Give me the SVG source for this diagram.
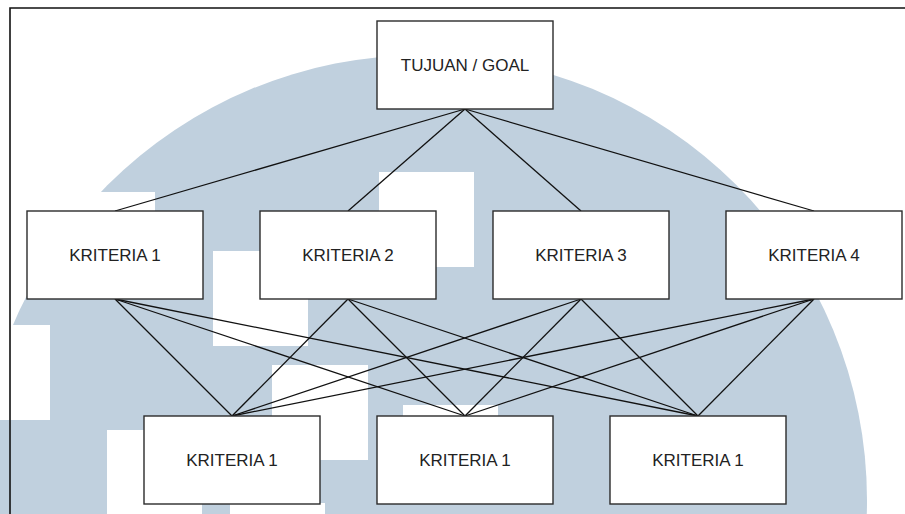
<svg xmlns="http://www.w3.org/2000/svg" width="905" height="514" viewBox="0 0 905 514">
  <style>
    .box { fill: #ffffff; stroke: #2b2b2b; stroke-width: 1.4; }
    .lbl { font-family: "Liberation Sans", Arial, sans-serif; font-size: 17px; fill: #222222; text-anchor: middle; }
    .edge { stroke: #111111; stroke-width: 1.3; fill: none; }
    .wm { fill: #c0d0de; }
    .cut { fill: #ffffff; }
  </style>
  <rect x="0" y="0" width="905" height="514" fill="#ffffff"/>
  <g id="watermark">
    <circle class="wm" cx="422" cy="500" r="445"/>
    <rect class="cut" x="60" y="192" width="95" height="95"/>
    <rect class="cut" x="213" y="251" width="95" height="95"/>
    <rect class="cut" x="379" y="172" width="95" height="95"/>
    <rect class="cut" x="0" y="325" width="50" height="95"/>
    <rect class="cut" x="272" y="365" width="96" height="95"/>
    <rect class="cut" x="403" y="405" width="95" height="95"/>
    <rect class="cut" x="107" y="430" width="95" height="95"/>
    <rect class="cut" x="230" y="503" width="95" height="20"/>
  </g>
  <g id="frame">
    <path d="M10 514 V8 H905" fill="none" stroke="#111111" stroke-width="1.6"/>
  </g>
  <g id="connectors">
    <line class="edge" x1="465" y1="109" x2="115" y2="211"/>
    <line class="edge" x1="465" y1="109" x2="348" y2="211"/>
    <line class="edge" x1="465" y1="109" x2="581" y2="211"/>
    <line class="edge" x1="465" y1="109" x2="814" y2="211"/>
    <line class="edge" x1="115" y1="299" x2="232" y2="416"/>
    <line class="edge" x1="115" y1="299" x2="465" y2="416"/>
    <line class="edge" x1="115" y1="299" x2="698" y2="416"/>
    <line class="edge" x1="348" y1="299" x2="232" y2="416"/>
    <line class="edge" x1="348" y1="299" x2="465" y2="416"/>
    <line class="edge" x1="348" y1="299" x2="698" y2="416"/>
    <line class="edge" x1="581" y1="299" x2="232" y2="416"/>
    <line class="edge" x1="581" y1="299" x2="465" y2="416"/>
    <line class="edge" x1="581" y1="299" x2="698" y2="416"/>
    <line class="edge" x1="814" y1="299" x2="232" y2="416"/>
    <line class="edge" x1="814" y1="299" x2="465" y2="416"/>
    <line class="edge" x1="814" y1="299" x2="698" y2="416"/>
  </g>
  <g id="goal">
    <rect class="box" x="377" y="21" width="176" height="88"/>
    <text class="lbl" x="465" y="71">TUJUAN / GOAL</text>
  </g>
  <g id="kriteria1">
    <rect class="box" x="27" y="211" width="176" height="88"/>
    <text class="lbl" x="115" y="261">KRITERIA 1</text>
  </g>
  <g id="kriteria2">
    <rect class="box" x="260" y="211" width="176" height="88"/>
    <text class="lbl" x="348" y="261">KRITERIA 2</text>
  </g>
  <g id="kriteria3">
    <rect class="box" x="493" y="211" width="176" height="88"/>
    <text class="lbl" x="581" y="261">KRITERIA 3</text>
  </g>
  <g id="kriteria4">
    <rect class="box" x="726" y="211" width="176" height="88"/>
    <text class="lbl" x="814" y="261">KRITERIA 4</text>
  </g>
  <g id="sub1">
    <rect class="box" x="144" y="416" width="176" height="88"/>
    <text class="lbl" x="232" y="466">KRITERIA 1</text>
  </g>
  <g id="sub2">
    <rect class="box" x="377" y="416" width="176" height="88"/>
    <text class="lbl" x="465" y="466">KRITERIA 1</text>
  </g>
  <g id="sub3">
    <rect class="box" x="610" y="416" width="176" height="88"/>
    <text class="lbl" x="698" y="466">KRITERIA 1</text>
  </g>
</svg>
